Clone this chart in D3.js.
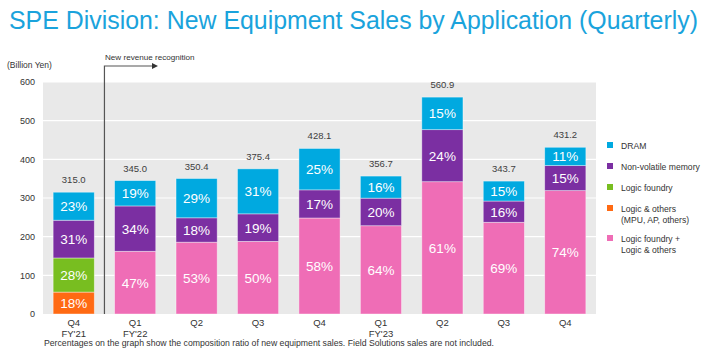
<!DOCTYPE html>
<html><head><meta charset="utf-8">
<script src="https://cdn.jsdelivr.net/npm/d3@7"></script>
<style>body{margin:0;background:#fff}svg{font-family:"Liberation Sans",Arial,sans-serif}</style>
</head><body><svg id="c" width="705" height="355"></svg>
<script>
const quarters = ["Q4","Q1","Q2","Q3","Q4","Q1","Q2","Q3","Q4"];
const fiscalYears = ["FY'21","FY'22","","","","FY'23","","",""];
const totals = [315.0,345.0,350.4,375.4,428.1,356.7,560.9,343.7,431.2];
const logicOthers = [18,0,0,0,0,0,0,0,0];
const logicFoundry = [28,0,0,0,0,0,0,0,0];
const logicCombined = [0,47,53,50,58,64,61,69,74];
const nonVolatile = [31,34,18,19,17,20,24,16,15];
const dram = [23,19,29,31,25,16,15,15,11];
const yTicks = [0,100,200,300,400,500,600];
const seriesNames = ["Logic & others\n(MPU, AP, others)","Logic foundry","Logic foundry +\nLogic & others","Non-volatile memory","DRAM"];
const seriesData = [logicOthers, logicFoundry, logicCombined, nonVolatile, dram];
const colors = ["#ff6a13","#78be20","#ef6db6","#7b2fa2","#00a9e0"];
const legendOrder = [4,3,1,0,2];

const svg = d3.select("#c");
const L=43,R=596,T=82,B=314;
const x = d3.scaleBand().domain(d3.range(9)).range([L,R]).paddingInner(0.33).paddingOuter(0.165);
const y = d3.scaleLinear().domain([0,600]).range([B,T]);

svg.append("text").attr("x",9).attr("y",29).attr("fill","#1aa3dc").attr("font-size",24.9).text("SPE Division: New Equipment Sales by Application (Quarterly)");

svg.append("rect").attr("x",L).attr("y",T).attr("width",R-L).attr("height",B-T).attr("fill","#e9e9e9");
svg.append("g").selectAll("line").data(yTicks.slice(1)).join("line")
  .attr("x1",L).attr("x2",R).attr("y1",d=>y(d)).attr("y2",d=>y(d)).attr("stroke","#fff").attr("stroke-width",1.2);

const ax = svg.append("g").attr("transform",`translate(${L},0)`).call(d3.axisLeft(y).tickValues(yTicks).tickSize(0).tickPadding(8).tickFormat(d3.format("d")));
ax.select(".domain").remove();
ax.selectAll("text").attr("font-size",9).attr("fill","#333").attr("font-family","Liberation Sans, Arial");

svg.append("text").attr("x",7).attr("y",68).attr("font-size",8.5).attr("fill","#333").text("(Billion Yen)");

// stacks
const rows = d3.range(9).map(i=>{const o={i};seriesData.forEach((s,k)=>o[k]=s[i]*totals[i]/100);return o;});
const stack = d3.stack().keys(d3.range(5))(rows);
const g = svg.append("g");
stack.forEach((layer,k)=>{
  layer.forEach((d,i)=>{
    if(seriesData[k][i]===0) return;
    g.append("rect").attr("x",x(i)).attr("width",x.bandwidth()).attr("y",y(d[1])).attr("height",y(d[0])-y(d[1]))
      .attr("fill",colors[k]).attr("stroke","rgba(255,255,255,0.5)").attr("stroke-width",0.8);
    g.append("text").attr("x",x(i)+x.bandwidth()/2).attr("y",(y(d[0])+y(d[1]))/2+5).attr("text-anchor","middle")
      .attr("fill","#fff").attr("font-size",13.5).text(seriesData[k][i]+"%");
  });
});
svg.append("g").selectAll("text").data(totals).join("text")
  .attr("x",(d,i)=>x(i)+x.bandwidth()/2).attr("y",d=>y(d)-9).attr("text-anchor","middle")
  .attr("font-size",9.5).attr("fill","#404040").text(d=>d.toFixed(1));

// x labels
const xl = svg.append("g");
quarters.forEach((q,i)=>{
  xl.append("text").attr("x",x(i)+x.bandwidth()/2).attr("y",326).attr("text-anchor","middle").attr("font-size",9.5).attr("fill","#333").text(q);
  if(fiscalYears[i]) xl.append("text").attr("x",x(i)+x.bandwidth()/2).attr("y",337).attr("text-anchor","middle").attr("font-size",9.5).attr("fill","#333").text(fiscalYears[i]);
});

// separator
const sx = (x(0)+x.bandwidth()+x(1))/2;
svg.append("path").attr("d",`M${sx},${B} V66 H154`).attr("fill","none").attr("stroke","#555").attr("stroke-width",1.2);
svg.append("path").attr("d","M158,66 L152,63 L152,69 Z").attr("fill","#333");
svg.append("text").attr("x",105).attr("y",60).attr("font-size",8.1).attr("fill","#333").text("New revenue recognition");

// legend
const legY = [146,167,188,209,239];
legendOrder.forEach((k,j)=>{
  svg.append("rect").attr("x",607).attr("y",legY[j]-4).attr("width",6).attr("height",6).attr("fill",colors[k]);
  seriesNames[k].split("\n").forEach((ln,m)=>{
    svg.append("text").attr("x",621).attr("y",legY[j]+3+m*11).attr("font-size",8.6).attr("fill","#333").text(ln);
  });
});

svg.append("text").attr("x",44).attr("y",346).attr("font-size",8.7).attr("fill","#333")
  .attr("textLength",450).attr("lengthAdjust","spacingAndGlyphs")
  .text("Percentages on the graph show the composition ratio of new equipment sales. Field Solutions sales are not included.");
</script></body></html>
